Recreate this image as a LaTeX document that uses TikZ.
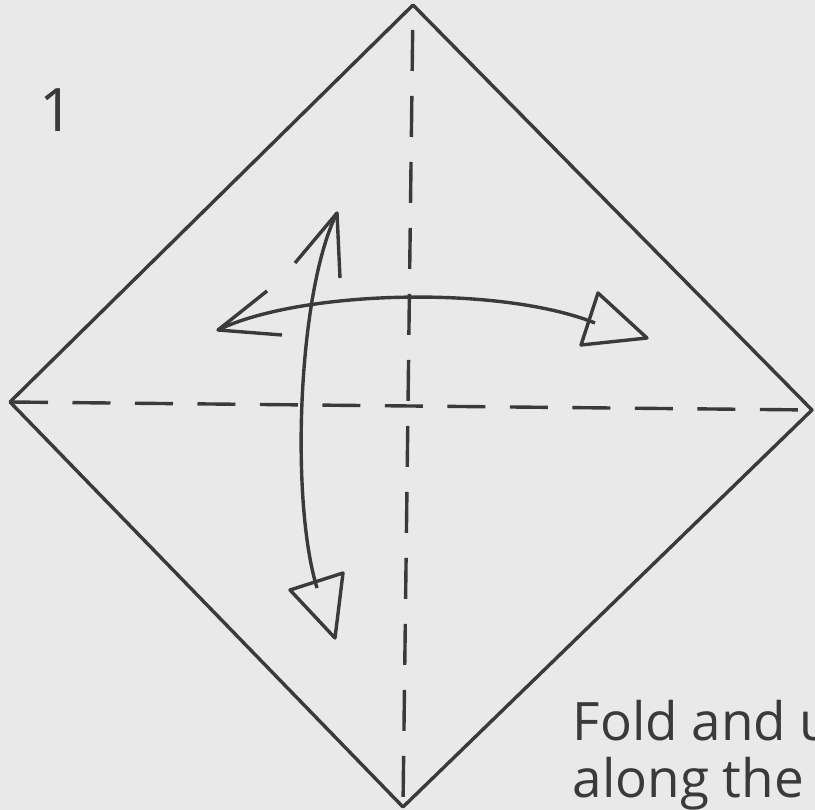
\documentclass[tikz,border=0pt]{standalone}
\usepackage{fontspec}
\setmainfont{Open Sans}
\definecolor{paperGray}{RGB}{233, 233, 233}
\definecolor{inkGray}{RGB}{58, 58, 58}

\begin{document}
\begin{tikzpicture}[x=1pt, y=-1pt, line width=3.4pt, draw=inkGray, line join=round,
    foldLine/.style={dash pattern=on 38pt off 24.5pt},
    creaseLine/.style={dash pattern=on 41pt off 25pt, dash phase=41pt},
    stepText/.style={text=inkGray, inner sep=0pt, align=left}]
  \useasboundingbox (0,0) rectangle (815,810);
  \fill[paperGray] (0,0) rectangle (815,810);
  \clip (0,0) rectangle (815,810);

  % square corners
  \coordinate (top) at (413,5);
  \coordinate (left) at (10,402);
  \coordinate (right) at (812,410);
  \coordinate (bottom) at (403,807);
  \draw[inkGray] (top) -- (right) -- (bottom) -- (left) -- cycle;
  % diagonals
  \draw[inkGray, foldLine] (left) -- (right);
  \draw[inkGray, creaseLine] (top) -- (bottom);

  % left-right fold arrow
  \coordinate (hTip) at (218,330);
  \coordinate (hEnd) at (595,323);
  \draw[inkGray] (hTip) .. controls (300,290) and (500,285) .. (hEnd);
  \draw[inkGray] (267,291) -- (hTip) -- (282,335);
  \draw[inkGray] (647,338) -- (598,293) -- (581,345) -- cycle;

  % up-down fold arrow
  \coordinate (vTip) at (337,213);
  \coordinate (vEnd) at (317,588);
  \draw[inkGray] (vTip) .. controls (298,290) and (290,500) .. (vEnd);
  \draw[inkGray] (295,263) -- (vTip) -- (340,278);
  \draw[inkGray] (335,638) -- (290,590) -- (343,573) -- cycle;

  % step number and caption
  \node[stepText, anchor=base west, font=\fontsize{60}{60}\selectfont] (num) at (38,132) {1};
  \node[stepText, anchor=base west, font=\fontsize{53}{57}\selectfont] (cap1) at (571,740) {Fold and u};
  \node[stepText, anchor=base west, font=\fontsize{53}{57}\selectfont] (cap2) at (571,797) {along the d};
\end{tikzpicture}
\end{document}
